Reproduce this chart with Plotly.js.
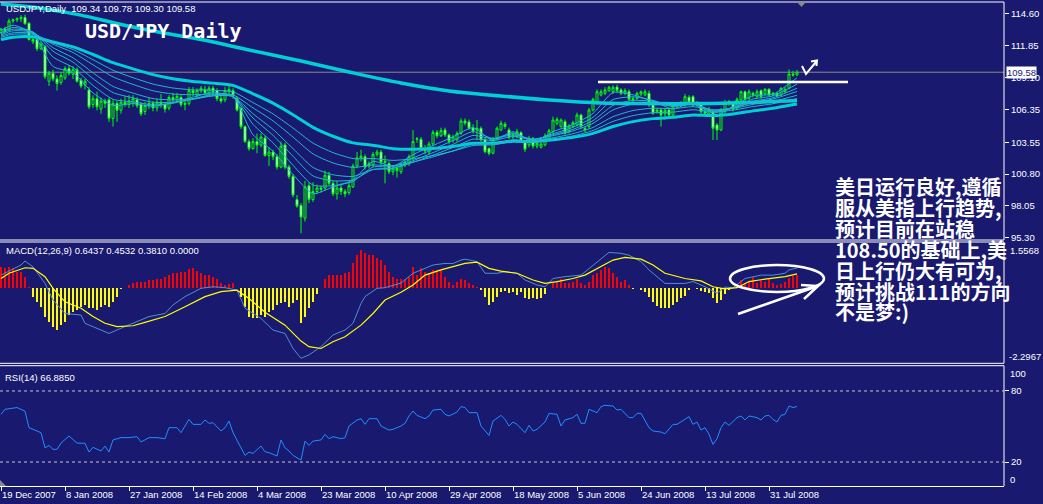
<!DOCTYPE html>
<html><head><meta charset="utf-8">
<script src="https://cdn.plot.ly/plotly-3.0.1.min.js"></script>
<style>html,body{margin:0;padding:0;background:#191970;}#chart{width:1043px;height:504px;}</style>
</head><body><div id="chart"></div>
<script>
// ---------- DATA ----------
const dateTickIdx = [0,16,32,48,64,80,96,112,128,144,160,176,192];
const dateTickText = ['19 Dec 2007','8 Jan 2008','27 Jan 2008','14 Feb 2008','4 Mar 2008','23 Mar 2008','10 Apr 2008','29 Apr 2008','18 May 2008','5 Jun 2008','24 Jun 2008','13 Jul 2008','31 Jul 2008'];
const priceTicks = [114.60,111.85,109.10,106.35,103.55,100.80,98.05,95.30];
const priceTickText = ['114.60','111.85','109.10','106.35','103.55','100.80','98.05','95.30'];
const lastPrice = 109.58;
const trendLevel = 108.74;

const opens = [
113.0,113.3,113.2,114.0,114.1,114.2,114.3,113.8,112.2,112.4,
111.6,111.8,108.8,109.5,109.0,108.7,109.1,109.9,109.4,109.8,
108.9,108.5,108.05,106.8,107.3,106.4,107.1,107.2,105.6,106.9,
106.3,107.0,106.8,106.9,107.2,106.8,106.2,106.7,106.9,106.5,
107.0,106.8,106.5,107.4,107.2,107.4,106.8,106.9,108.0,107.6,
108.0,108.1,107.8,108.2,108.0,107.3,107.2,107.9,108.0,107.33,
106.47,104.89,103.6,103.0,103.6,103.3,103.9,102.4,102.7,102.3,
101.4,103.3,101.4,100.6,98.6,98.1,97.0,99.8,98.6,99.3,
99.6,99.6,100.7,100.0,99.1,99.6,99.3,99.2,99.7,101.5,
102.2,102.3,101.5,101.6,102.5,102.7,101.8,101.7,101.0,101.3,
101.0,101.6,101.7,102.2,103.8,103.8,103.0,102.7,103.4,104.4,
104.1,104.6,104.17,103.7,103.75,104.3,105.38,105.3,104.8,104.6,
104.75,103.8,103.0,102.6,103.88,104.6,105.1,104.6,104.0,104.02,
104.37,103.6,103.31,103.88,103.2,103.11,103.31,103.88,104.46,105.18,
104.89,105.32,104.46,104.89,105.03,105.89,104.75,104.89,106.32,106.9,
107.62,107.76,107.99,107.9,108.3,108.05,107.76,107.9,107.3,107.33,
107.7,107.62,107.76,106.76,106.18,106.32,106.0,106.32,105.89,106.67,
106.76,106.76,107.42,107.47,106.76,106.9,106.2,106.04,106.18,105.03,
104.6,106.18,106.96,106.9,106.5,107.19,107.9,107.33,107.76,107.47,
107.99,107.7,108.11,107.62,107.76,107.62,107.9,108.19,109.43,109.34];
const highs = [
113.4,113.5,114.2,114.2,114.3,114.5,114.55,113.9,112.6,112.5,
112.2,111.9,109.7,109.8,109.3,109.6,110.1,110.2,110.1,110.0,
109.1,109.0,108.3,107.6,107.9,107.4,107.3,107.4,107.2,107.1,
107.3,107.5,107.6,107.6,107.4,107.0,107.0,107.4,107.1,107.3,
107.7,107.0,107.6,107.8,107.8,107.6,107.2,108.3,108.3,108.2,
108.4,108.4,108.4,108.4,108.2,107.6,108.3,108.4,108.2,107.5,
106.6,105.0,103.8,103.9,104.3,104.3,104.1,103.1,102.9,102.5,
103.6,103.5,101.6,100.8,99.0,98.3,100.2,100.1,100.1,99.9,
99.8,101.1,101.0,100.2,100.2,100.0,99.5,100.1,101.7,102.7,
102.9,102.5,101.9,102.7,102.9,102.9,102.4,101.9,101.5,101.6,
101.8,102.1,102.5,104.6,104.0,104.0,103.3,103.6,104.6,104.6,
104.8,104.8,104.3,104.2,104.5,105.6,105.6,105.5,105.1,105.46,
104.9,103.9,103.1,104.0,104.9,105.4,105.3,104.8,104.4,104.7,
104.5,103.7,104.1,104.0,103.6,103.6,104.3,104.7,105.75,105.7,
105.6,105.5,105.1,105.4,106.1,106.0,104.9,106.5,107.4,108.1,
108.1,108.3,108.4,108.45,108.5,108.2,108.2,108.1,107.5,107.9,
108.0,108.1,108.0,106.9,106.5,106.5,106.5,106.5,106.8,106.9,
107.1,107.7,107.6,107.6,107.1,107.0,106.5,106.6,106.3,105.2,
106.5,107.2,107.2,107.0,107.4,108.0,108.0,108.1,107.9,108.1,
108.1,108.2,108.2,107.9,107.9,108.3,108.3,109.83,109.7,109.78];
const lows = [
112.9,113.0,113.1,113.8,113.9,113.9,113.7,112.3,112.0,111.4,
111.5,109.0,108.4,108.8,108.0,108.5,108.9,109.3,109.0,108.7,
108.2,108.1,106.4,106.5,106.3,106.0,106.5,105.3,104.9,105.3,
106.0,106.6,106.5,106.6,106.5,105.8,105.9,106.4,106.2,106.2,
106.5,106.1,106.3,106.9,107.0,106.6,106.3,106.7,107.5,107.4,
107.8,107.6,107.5,107.7,107.1,106.9,107.0,107.7,107.3,106.2,
104.7,103.5,102.8,102.9,102.6,103.1,102.3,101.5,102.0,101.2,
101.3,101.2,100.4,98.8,97.9,95.7,96.7,98.3,98.4,99.1,
99.2,99.4,99.8,98.9,98.6,99.0,98.8,99.0,99.6,101.3,
101.9,101.2,101.3,101.4,102.3,101.6,100.0,100.8,100.7,100.5,
100.8,101.4,101.5,102.0,103.5,102.8,102.5,102.5,103.2,103.9,
104.0,104.0,103.4,103.5,103.6,104.2,105.0,104.6,104.3,103.74,
103.6,102.6,102.4,102.5,103.7,104.5,104.7,103.8,103.8,103.9,
103.5,102.7,103.1,103.0,103.0,103.0,103.2,103.8,104.3,105.0,
104.8,104.2,104.3,104.8,104.9,104.7,104.4,104.7,106.2,106.8,
107.5,107.6,107.9,107.7,107.8,107.6,107.6,107.1,107.0,107.2,
107.5,107.5,106.6,105.9,106.0,104.89,105.5,105.7,105.7,106.5,
106.6,106.6,106.9,106.6,106.6,106.0,105.9,105.9,103.74,103.74,
104.5,106.0,106.7,106.2,106.3,107.0,107.1,107.2,107.4,107.3,
107.3,107.6,107.5,107.5,107.4,107.5,107.8,108.1,109.2,109.30];
const closes = [
113.3,113.1,114.0,114.1,114.2,114.3,113.75,112.4,112.4,111.6,
112.0,109.2,109.5,109.0,108.6,109.3,109.9,109.5,109.8,108.8,
108.4,108.8,106.6,107.3,106.6,107.1,106.9,105.6,106.9,106.3,
107.0,106.8,107.1,107.3,106.7,106.0,106.7,106.9,106.5,107.0,
106.8,106.4,107.4,107.2,107.5,106.8,106.9,108.0,107.8,108.0,
108.2,107.8,108.2,107.9,107.3,107.1,108.0,108.1,107.6,106.32,
104.89,103.6,103.0,103.6,103.3,104.0,102.4,102.7,102.3,101.4,
103.2,101.4,100.6,99.0,98.05,97.1,99.7,98.6,99.3,99.6,
99.5,100.7,100.0,99.1,99.6,99.3,99.1,99.8,101.5,102.2,
102.35,101.4,101.7,102.5,102.7,101.8,101.9,101.0,101.3,101.1,
101.6,101.8,102.3,103.6,103.85,103.0,102.8,103.4,104.4,104.1,
104.55,104.17,103.6,104.0,104.3,105.38,105.2,104.75,104.5,104.75,
103.74,102.73,102.59,103.88,104.75,105.18,104.9,103.97,104.17,104.46,
103.6,102.93,103.88,103.22,103.45,103.39,104.08,104.54,105.46,105.52,
105.46,104.31,104.94,105.23,105.89,104.89,104.6,106.32,107.24,107.9,
107.9,108.05,108.28,108.28,108.0,107.76,107.99,107.24,107.19,107.76,
107.9,107.9,106.76,106.04,106.32,105.89,106.3,105.89,106.67,106.76,
106.9,107.47,107.0,106.76,106.96,106.18,106.04,106.4,104.75,104.6,
106.32,106.96,107.04,106.38,107.24,107.9,107.24,107.9,107.62,107.9,
107.47,108.11,107.62,107.76,107.53,108.19,108.11,109.43,109.34,109.58];

// long moving average (thick, upper)
const longMaIdx = [0,10,20,30,40,50,62,75,87,100,112,125,137,150,162,175,187,199];
const longMaVal = [115.46,115.1,114.5,113.7,113.0,112.4,111.5,110.55,109.6,108.65,107.96,107.53,107.19,106.93,106.88,106.88,106.97,107.14];

// moving-average fan (sampled)
const maIdx = [0,3,8,13,18,23,28,33,38,43,48,53,58,63,68,73,78,83,88,93,98,103,108,113,118,123,128,133,138,143,148,153,158,163,168,173,178,183,188,193,199];
const ma1 = [113.2,113.63,112.91,110.08,109.54,107.80,106.72,106.88,106.64,106.96,107.43,107.82,107.47,104.19,102.77,100.76,99.11,99.69,100.29,101.89,101.48,102.47,103.26,104.01,104.80,103.69,104.45,103.55,104.46,105.07,106.03,107.84,107.63,107.07,106.42,106.96,105.77,106.64,107.56,107.68,109.1];
const ma2 = [113.0,113.44,113.03,110.89,109.99,108.44,107.25,107.03,106.76,106.91,107.28,107.66,107.51,105.09,103.49,101.56,99.85,99.80,100.17,101.41,101.42,102.18,102.94,103.69,104.46,103.87,104.31,103.74,104.28,104.84,105.69,107.22,107.46,107.16,106.63,106.89,106.07,106.52,107.27,107.54,108.55];
const ma3 = [112.9,113.29,113.05,111.39,110.45,109.03,107.82,107.37,106.99,107.0,107.24,107.55,107.48,105.63,104.14,102.34,100.64,100.22,100.30,101.19,101.30,101.95,102.65,103.37,104.13,103.84,104.19,103.81,104.19,104.66,105.40,106.72,107.15,107.07,106.71,106.87,106.24,106.50,107.08,107.38,108.2];
const ma4 = [112.8,113.15,113.01,111.70,110.82,109.53,108.36,107.78,107.31,107.19,107.31,107.54,107.50,106.0,104.65,103.0,101.37,100.74,100.60,101.20,101.29,101.81,102.43,103.09,103.81,103.70,104.04,103.79,104.11,104.52,105.17,106.33,106.83,106.89,106.66,106.81,106.33,106.50,106.98,107.27,107.92];
const ma5 = [112.7,112.98,112.93,112.0,111.28,110.22,109.18,108.53,107.98,107.70,107.64,107.71,107.63,106.51,105.39,103.99,102.54,101.76,101.37,101.58,101.53,101.84,102.28,102.80,103.40,103.43,103.76,103.66,103.93,104.28,104.82,105.75,106.28,106.48,106.44,106.61,106.32,106.45,106.81,107.07,107.59];
const ma6 = [112.6,112.85,112.84,112.13,111.54,110.66,109.75,109.11,108.56,108.22,108.06,108.02,107.89,106.96,105.99,104.77,103.47,102.65,102.14,102.14,101.98,102.12,102.40,102.78,103.26,103.32,103.60,103.55,103.79,104.09,104.56,105.34,105.84,106.09,106.14,106.34,106.18,106.31,106.62,106.86,107.31];
const maMid = [112.4,112.60,112.63,112.18,111.76,111.11,110.41,109.87,109.37,109.01,108.78,108.64,108.45,107.72,106.92,105.92,104.83,104.06,103.49,103.28,102.99,102.93,103.0,103.18,103.45,103.46,103.63,103.60,103.76,103.97,104.31,104.90,105.32,105.58,105.69,105.89,105.84,105.98,106.25,106.48,106.85];

// MACD histogram (one per bar)
const macdHist = [
0.68,0.63,0.68,0.63,0.52,0.52,0.36,0.02,-0.29,-0.46,
-0.62,-0.94,-1.11,-1.27,-1.38,-1.22,-1.11,-0.89,-0.78,-0.73,
-0.62,-0.56,-0.67,-0.67,-0.73,-0.62,-0.56,-0.62,-0.46,-0.29,
-0.05,0.0,0.09,0.14,0.2,0.2,0.2,0.25,0.25,0.3,
0.3,0.36,0.41,0.47,0.47,0.5,0.52,0.61,0.63,0.54,
0.47,0.43,0.43,0.36,0.30,0.14,0.09,0.11,0.14,0.0,
-0.29,-0.62,-0.94,-1.0,-0.98,-0.89,-0.94,-0.78,-0.73,-0.56,
-0.51,-0.46,-0.62,-0.51,-0.40,-1.16,-0.94,-0.67,-0.46,-0.22,
0.0,0.30,0.43,0.43,0.43,0.43,0.47,0.52,0.79,1.06,
1.23,1.12,1.06,1.06,0.96,0.90,0.74,0.52,0.36,0.30,
0.30,0.30,0.36,0.68,0.41,0.63,0.52,0.47,0.58,0.58,
0.58,0.36,0.20,0.09,0.20,0.30,0.25,0.14,0.09,0.03,
-0.08,-0.29,-0.56,-0.46,-0.29,-0.13,-0.11,-0.18,-0.15,-0.24,
-0.13,-0.35,-0.37,-0.35,-0.37,-0.35,-0.22,-0.02,0.14,0.22,
0.30,0.14,0.14,0.20,0.30,0.14,0.09,0.20,0.41,0.47,
0.58,0.68,0.63,0.47,0.36,0.20,0.25,0.09,-0.04,-0.02,
-0.08,-0.13,-0.29,-0.46,-0.59,-0.65,-0.65,-0.67,-0.56,-0.46,
-0.35,-0.26,-0.08,-0.02,-0.04,-0.11,-0.13,-0.18,-0.35,-0.51,
-0.40,-0.22,-0.08,-0.02,-0.01,0.25,0.14,0.20,0.36,0.14,
0.25,0.20,0.30,0.14,0.09,0.11,0.20,0.33,0.39,0.41];
const macdLineIdx = [0,5,6,8,11,13,16,20,21,25,27,30,33,37,41,43,46,50,53,56,59,61,65,68,71,73,75,77,80,83,86,88,90,91,94,96,100,103,106,108,111,113,115,116,119,121,124,126,129,131,134,136,138,141,145,147,150,152,155,157,160,162,165,166,171,173,176,179,181,183,186,190,193,196,197,199];
const macdLineVal = [0.41,0.74,0.87,0.68,0.14,-0.40,-0.84,-0.89,-1.16,-1.38,-1.49,-1.32,-1.16,-0.94,-0.84,-0.56,-0.29,-0.02,0.03,0.0,-0.08,-0.67,-1.0,-1.38,-1.49,-1.98,-2.30,-2.19,-1.92,-1.54,-1.38,-1.16,-0.51,-0.29,-0.02,0.0,0.15,0.47,0.63,0.74,0.79,0.79,0.90,0.93,0.85,0.47,0.47,0.52,0.47,0.25,0.09,0.03,0.30,0.36,0.41,0.63,0.96,1.15,1.12,1.06,0.85,0.58,0.25,0.14,0.14,0.2,0.03,-0.18,0.02,0.0,0.30,0.41,0.41,0.47,0.58,0.64];
const signalIdx = [0,2,6,8,11,13,16,20,23,26,29,33,36,41,46,51,55,59,62,66,71,75,77,80,83,86,90,93,96,100,103,106,110,113,116,119,122,125,129,133,136,139,143,146,150,153,156,160,163,166,171,175,178,181,184,187,191,196,199];
const signalVal = [0.30,0.47,0.65,0.63,0.36,-0.02,-0.46,-0.67,-0.94,-1.16,-1.27,-1.24,-1.13,-0.94,-0.62,-0.29,-0.13,-0.08,-0.35,-0.80,-1.22,-1.74,-1.92,-1.98,-1.76,-1.60,-1.22,-0.84,-0.40,-0.15,0.09,0.41,0.58,0.68,0.79,0.83,0.63,0.54,0.47,0.25,0.14,0.20,0.30,0.41,0.68,0.90,0.99,0.93,0.74,0.47,0.30,0.22,0.03,-0.04,0.0,0.2,0.28,0.36,0.45];

// RSI(14)
const rsiIdx = [0,1,2,4,6,7,8,10,11,12,13,14,15,17,18,19,21,22,23,25,26,27,28,30,32,34,35,37,39,41,42,44,45,46,47,48,50,51,52,53,55,56,57,58,60,61,62,63,65,66,67,68,69,70,71,72,73,75,76,77,78,80,81,82,83,85,86,87,89,90,91,92,94,95,97,98,100,101,102,103,104,106,107,108,110,111,112,114,115,116,117,119,120,122,123,125,126,127,128,129,131,132,133,134,136,137,139,140,141,143,144,145,146,147,149,150,151,153,154,155,157,158,159,160,162,163,165,166,168,169,172,173,174,175,176,177,178,179,180,181,182,184,185,186,187,189,190,191,192,193,194,195,196,197,198,199];
const rsiVal = [60.3,64.5,65,66,63,49,47.6,44.8,32,34,30.7,30.7,36,42,39,36,35.8,28.4,32.4,29.3,33.5,28.4,38.6,40.6,40.6,41.4,36.9,40.6,40.6,39.7,49,49,44.8,50.4,56,51.8,51.8,55.5,52.7,53.2,46.2,49,54.6,44.8,32,25.6,28.4,27.3,33.5,28.7,27.9,26.5,25.1,38.6,32,29.3,25.6,21.7,37.7,34,37.7,38.6,43.4,39.7,41.4,39.7,40.6,50.4,55.5,56.6,51.8,56.6,56.6,50.4,47,47.6,50.4,52.7,58.9,63.1,59.4,56.6,58.9,63.9,64.5,60.3,58.9,62.2,66.8,66,61.7,61.7,50.4,42.5,54.6,59.4,56,50.4,53.8,51.8,44.8,51,46.2,47.6,53.8,61.1,60.3,50.4,55.5,57.5,60.3,52.7,52.7,64.5,61.7,66.8,67.9,67.3,63.9,64.5,57.5,57.5,61.1,61.1,49,46.2,45.3,43.9,51.8,51.8,58.3,51.8,53.8,47,49,43.4,34.9,39.7,49,53.8,51,57.5,58.9,55.5,58.9,57.5,55.5,58.9,59.4,56,53.8,59.4,60.3,67.3,66.0,66.9];
const rsiLevels = [80, 20];

const noteLines = ['美日运行良好,遵循','服从美指上行趋势,','预计目前在站稳','108.50的基础上,美','日上行仍大有可为,','预计挑战111的方向','不是梦:)'];

// ---------- STYLE / LAYOUT ----------
const BG = '#191970';
const FONT = 'Liberation Sans, Arial, sans-serif';
const barIdx = opens.map((_, i) => i);
const PW = 1004, PH = 486;              // plot area in pixels
const fx = v => v / PW, fy = v => (PH - v) / PH;

const thin = (y, name) => ({type:'scatter', mode:'lines', x: maIdx, y, name, line:{color:'#1fb8d2', width:1, shape:'spline', smoothing:0.6}, xaxis:'x', yaxis:'y', hoverinfo:'skip'});

const traces = [
  {type:'scatter', mode:'lines', x: longMaIdx, y: longMaVal, line:{color:'#00cfd6', width:3.5, shape:'spline'}, xaxis:'x', yaxis:'y', hoverinfo:'skip'},
  {type:'scatter', mode:'lines', x: maIdx, y: maMid, line:{color:'#00cfd6', width:3, shape:'spline', smoothing:0.6}, xaxis:'x', yaxis:'y', hoverinfo:'skip'},
  thin(ma6,'m6'), thin(ma5,'m5'), thin(ma4,'m4'), thin(ma3,'m3'), thin(ma2,'m2'), thin(ma1,'m1'),
  {type:'candlestick', x: barIdx, open: opens, high: highs, low: lows, close: closes,
   increasing:{line:{color:'#00ff00', width:1}, fillcolor: BG},
   decreasing:{line:{color:'#00ff00', width:1}, fillcolor:'#ffffff'},
   whiskerwidth:0, xaxis:'x', yaxis:'y', hoverinfo:'skip'},
  {type:'bar', x: barIdx, y: macdHist, width:0.28,
   marker:{color: macdHist.map(v => v >= 0 ? '#ff0000' : '#ffff00'), line:{width:0}},
   xaxis:'x', yaxis:'y2', hoverinfo:'skip'},
  {type:'scatter', mode:'lines', x: macdLineIdx, y: macdLineVal, line:{color:'#4f8fcf', width:1}, xaxis:'x', yaxis:'y2', hoverinfo:'skip'},
  {type:'scatter', mode:'lines', x: signalIdx, y: signalVal, line:{color:'#ffff00', width:1.2}, xaxis:'x', yaxis:'y2', hoverinfo:'skip'},
  {type:'scatter', mode:'lines', x: rsiIdx, y: rsiVal, line:{color:'#1e90ff', width:1}, xaxis:'x', yaxis:'y3', hoverinfo:'skip'}
];

const whiteLine = (x0,y0,x1,y1,w) => ({type:'line', xref:'paper', yref:'paper', x0:fx(x0), y0:fy(y0), x1:fx(x1), y1:fy(y1), line:{color:'#ffffff', width:w||1}});

const shapes = [
  {type:'line', xref:'paper', x0:0, x1:1, yref:'y', y0:lastPrice, y1:lastPrice, line:{color:'#8a8a8a', width:1}, layer:'below'},
  {type:'line', xref:'x', x0:149.25, x1:211.75, yref:'y', y0:trendLevel, y1:trendLevel, line:{color:'#ffffff', width:2.5}},
  ...rsiLevels.map(v => ({type:'line', xref:'paper', x0:0, x1:1, yref:'y3', y0:v, y1:v, line:{color:'#c8c8c8', width:1, dash:'3px,3px'}})),
  // panel frames
  whiteLine(0,2,1004,2), whiteLine(0,240,1004,240), whiteLine(1004,2,1004,240),
  whiteLine(0,242,1004,242), whiteLine(0,363.3,1004,363.3), whiteLine(1004,242,1004,363.3),
  whiteLine(0,365.7,1004,365.7), whiteLine(1004,365.7,1004,486),
  // hand-drawn marks
  {type:'circle', xref:'paper', yref:'paper', x0:fx(730), x1:fx(824), y0:fy(292), y1:fy(265), line:{color:'#ffffff', width:2.5}},
  {type:'path', xref:'paper', yref:'paper', line:{color:'#ffffff', width:2.5},
   path:`M ${fx(738)} ${fy(314)} L ${fx(818)} ${fy(286)} M ${fx(804)} ${fy(299)} L ${fx(818)} ${fy(286)} L ${fx(801)} ${fy(285)}`},
  {type:'path', xref:'paper', yref:'paper', line:{color:'#ffffff', width:2},
   path:`M ${fx(802)} ${fy(66)} L ${fx(806)} ${fy(74)} L ${fx(816)} ${fy(62)} M ${fx(811)} ${fy(61.5)} L ${fx(817)} ${fy(60.5)} L ${fx(816.5)} ${fy(66)}`},
  {type:'path', xref:'paper', yref:'paper', fillcolor:'#8a8a8a', line:{width:0},
   path:`M ${fx(797)} ${fy(2)} L ${fx(806)} ${fy(2)} L ${fx(801.5)} ${fy(7)} Z`},
  {type:'path', xref:'paper', yref:'paper', fillcolor:'#8a8a8a', line:{width:0},
   path:`M 0 ${fy(486)} L 0 ${fy(480)} L ${fx(6)} ${fy(486)} Z`}
];

const ann = (text, x, y, font, extra) => Object.assign({xref:'paper', yref:'paper', x:fx(x), y:fy(y), xanchor:'left', yanchor:'middle', showarrow:false, text, font: Object.assign({family:FONT, size:9.5, color:'#ffffff'}, font||{})}, extra||{});

const annotations = [
  ann('USDJPY,Daily\u00a0\u00a0109.34 109.78 109.30 109.58', 4, 9),
  ann('<b>USD/JPY Daily</b>', 83, 31, {family:'DejaVu Sans Mono, monospace', size:20}),
  ann('MACD(12,26,9) 0.6437 0.4532 0.3810 0.0000', 4, 251),
  ann('RSI(14) 66.8850', 3, 377),
  ann('1.5568', 1008, 250),
  ann('-2.2967', 1007, 357),
  ann('100', 1008, 373),
  ann('0', 1008, 479),
  {xref:'paper', x:1, xanchor:'left', xshift:2, yref:'y', y:lastPrice, yanchor:'middle', showarrow:false,
   text:String(lastPrice.toFixed(2)), bgcolor:'#ffffff', borderpad:0, font:{family:FONT, size:9.5, color:'#191970'}},
  ...noteLines.map((t, j) => ann('<b>' + t + '</b>', 833, [186,207,228,249,270,291,311][j], {family:'Noto Sans CJK SC, sans-serif', size:20}))
];

const tickFont = {family:FONT, size:9.5, color:'#ffffff'};
const layout = {
  width:1043, height:504,
  margin:{l:0, r:39, t:0, b:18, pad:0},
  paper_bgcolor:BG, plot_bgcolor:BG,
  showlegend:false, hovermode:false,
  boxgap:0.5, boxgroupgap:0, bargap:0,
  xaxis:{range:[-0.25,250.75], anchor:'y3', showgrid:false, zeroline:false,
         showline:true, linecolor:'#ffffff', linewidth:1,
         tickmode:'array', tickvals:dateTickIdx, ticktext:dateTickText,
         ticks:'outside', ticklen:4, tickcolor:'#ffffff', tickfont:tickFont,
         ticklabelposition:'outside right', rangeslider:{visible:false}, fixedrange:true},
  yaxis:{domain:[fy(240), fy(2)], range:[95.117,115.634], side:'right', anchor:'x',
         showgrid:false, zeroline:false, showline:false,
         tickmode:'array', tickvals:priceTicks, ticktext:priceTickText,
         ticks:'outside', ticklen:4, tickcolor:'#ffffff', tickfont:tickFont, fixedrange:true},
  yaxis2:{domain:[fy(363), fy(242)], range:[-2.453,1.489], side:'right', anchor:'x',
         showgrid:false, zeroline:false, showline:false, showticklabels:false, ticks:'', fixedrange:true},
  yaxis3:{domain:[fy(485.7), fy(367.3)], range:[0,100], side:'right', anchor:'x',
         showgrid:false, zeroline:false, showline:false,
         tickmode:'array', tickvals:rsiLevels, ticktext:rsiLevels.map(String),
         ticks:'outside', ticklen:4, tickcolor:'#ffffff', tickfont:tickFont, fixedrange:true},
  shapes, annotations
};

Plotly.newPlot('chart', traces, layout, {displayModeBar:false, staticPlot:true});
</script></body></html>
